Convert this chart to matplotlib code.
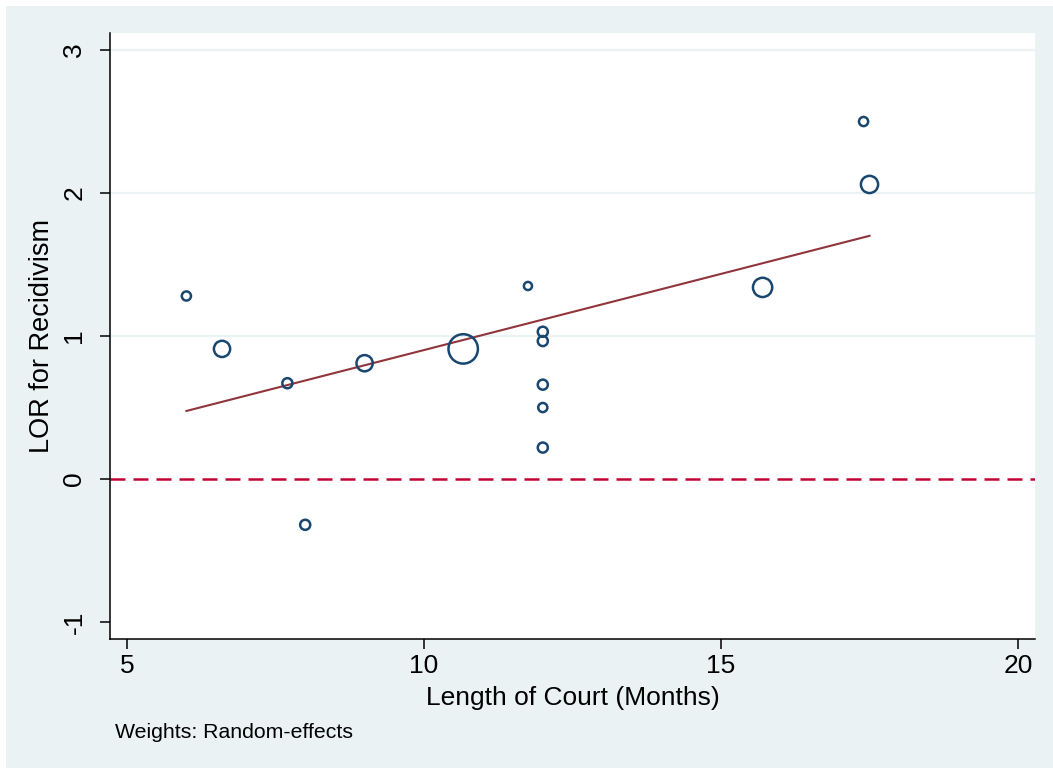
import numpy as np
import matplotlib.pyplot as plt
from matplotlib.patches import Rectangle

plt.rcParams['font.family'] = ['Liberation Sans', 'DejaVu Sans']

# study data: court length (months), log odds ratio, random-effects weight (%)
months = [6.0, 6.6, 7.7, 8.0, 9.0, 10.66, 11.75, 12.0, 12.0, 12.0, 12.0, 12.0, 15.7, 17.4, 17.5]
lor = [1.28, 0.91, 0.67, -0.32, 0.81, 0.91, 1.35, 1.03, 0.965, 0.66, 0.50, 0.22, 1.34, 2.50, 2.06]
weights = [2.8, 8.8, 3.4, 3.4, 8.8, 28.9, 2.2, 3.4, 3.4, 3.4, 2.8, 3.4, 12.4, 2.8, 9.9]

# meta-regression fit
intercept = -0.163
slope = 0.1065

bg = '#EAF2F3'
fig = plt.figure(figsize=(10.53, 7.68), dpi=100, facecolor=bg)
# thin white strip along top and left edge
fig.patches.append(Rectangle((0, 1 - 6 / 768), 1, 6 / 768, transform=fig.transFigure,
                             facecolor='white', edgecolor='none', zorder=-1))
fig.patches.append(Rectangle((0, 0), 6 / 1053, 1, transform=fig.transFigure,
                             facecolor='white', edgecolor='none', zorder=-1))

ax = fig.add_axes([110 / 1053, 1 - 638.5 / 768, 925 / 1053, 605.5 / 768])
ax.set_facecolor('white')

for g in [1, 2, 3]:
    ax.axhline(g, color=bg, lw=1.6, zorder=0)

sizes = np.array(weights) * 15.5
ax.scatter(months, lor, s=sizes, facecolors='none', edgecolors='#1A476F',
           linewidths=1.8, zorder=3)

xfit = np.array([min(months), max(months)])
ax.plot(xfit, intercept + slope * xfit, color='#90353B', lw=1.5, zorder=2)

ax.axhline(0, color='#C10534', lw=1.8, linestyle=(0, (6, 3.2)), zorder=2)

ax.set_xlim(4.714, 20.286)
ax.set_ylim(-1.115, 3.119)
ax.set_xticks([5, 10, 15, 20])
ax.set_yticks([-1, 0, 1, 2, 3])
ax.set_yticklabels(['-1', '0', '1', '2', '3'], rotation=90, va='center')

for side in ['top', 'right']:
    ax.spines[side].set_visible(False)
for side in ['left', 'bottom']:
    ax.spines[side].set_linewidth(1.1)
    ax.spines[side].set_color('black')

ax.tick_params(axis='both', length=7, width=1.1, labelsize=19, colors='black')
ax.tick_params(axis='x', pad=4)
ax.tick_params(axis='y', pad=10)

ax.set_xlabel('Length of Court (Months)', fontsize=19, labelpad=6)
ax.set_ylabel('LOR for Recidivism', fontsize=19.5, labelpad=5)

fig.text(115 / 1053, 1 - 738 / 768, 'Weights: Random-effects', fontsize=15.3,
         ha='left', va='baseline')

fig.savefig('out.png', dpi=100, facecolor=bg)
